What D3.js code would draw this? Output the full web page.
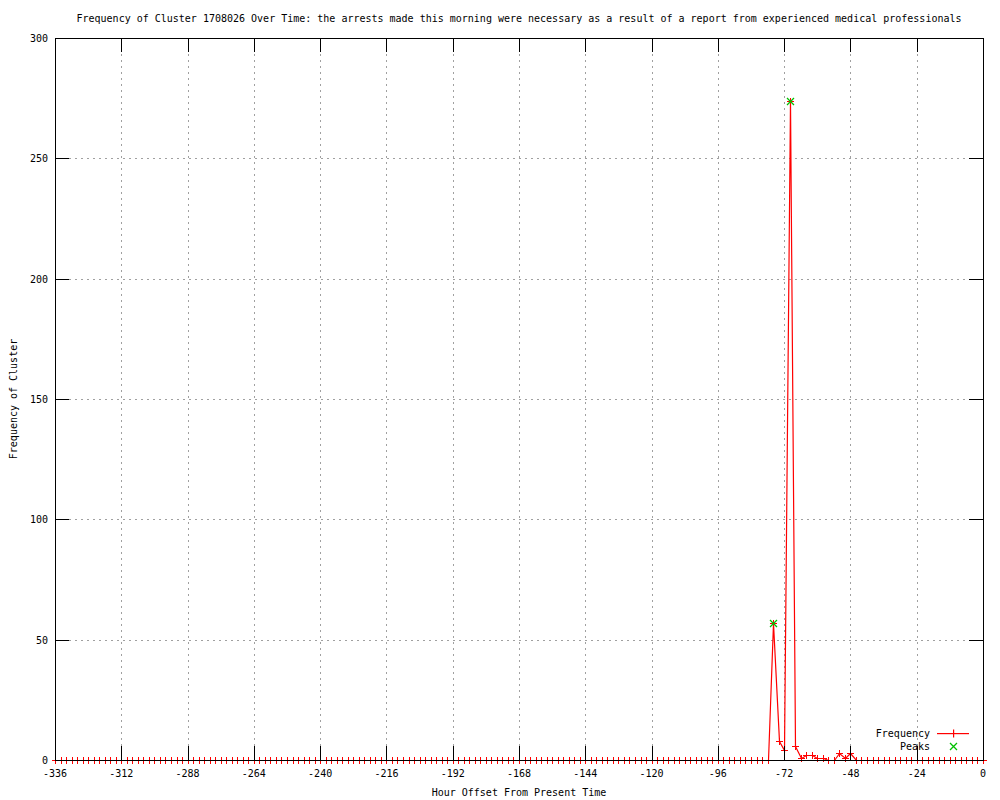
<!DOCTYPE html>
<html>
<head>
<meta charset="utf-8">
<script src="https://cdn.jsdelivr.net/npm/d3@7"></script>
<style>
	body { margin: 0; background: #fff; }
	text { font-family: 'DejaVu Sans Mono', 'Liberation Mono', monospace; font-size: 10px; fill: #000; }
</style>
</head>
<body>
<div id="chart"></div>
<script>
// data: one point every 2 hours from -336 to 0
const hourStep = 2;
const hours = d3.range(-336, 1, hourStep);
const frequency = [
	0, 0, 0, 0, 0, 0, 0, 0, 0, 0, 0, 0,
	0, 0, 0, 0, 0, 0, 0, 0, 0, 0, 0, 0,
	0, 0, 0, 0, 0, 0, 0, 0, 0, 0, 0, 0,
	0, 0, 0, 0, 0, 0, 0, 0, 0, 0, 0, 0,
	0, 0, 0, 0, 0, 0, 0, 0, 0, 0, 0, 0,
	0, 0, 0, 0, 0, 0, 0, 0, 0, 0, 0, 0,
	0, 0, 0, 0, 0, 0, 0, 0, 0, 0, 0, 0,
	0, 0, 0, 0, 0, 0, 0, 0, 0, 0, 0, 0,
	0, 0, 0, 0, 0, 0, 0, 0, 0, 0, 0, 0,
	0, 0, 0, 0, 0, 0, 0, 0, 0, 0, 0, 0,
	0, 0, 0, 0, 0, 0, 0, 0, 0, 0, 57, 8,
	4, 274, 6, 1, 2, 2, 1, 1, 0, 0, 3, 1,
	3, 0, 0, 0, 0, 0, 0, 0, 0, 0, 0, 0,
	0, 0, 0, 0, 0, 0, 0, 0, 0, 0, 0, 0,
	0
];
const peakHours = [-76, -70];
const peakValues = [57, 274];

const xTicks = [-336, -312, -288, -264, -240, -216, -192, -168, -144, -120, -96, -72, -48, -24, 0];
const yTicks = [0, 50, 100, 150, 200, 250, 300];

const titleText = 'Frequency of Cluster 1708026 Over Time: the arrests made this morning were necessary as a result of a report from experienced medical professionals';
const xLabel = 'Hour Offset From Present Time';
const yLabel = 'Frequency of Cluster';

class FreqVis {
	constructor(parentElement) {
		this.parentElement = parentElement;
		this.initVis();
	}

	initVis() {
		let vis = this;

		vis.margin = { top: 38, right: 17, bottom: 40, left: 55 };
		vis.width = 1000 - vis.margin.left - vis.margin.right;
		vis.height = 800 - vis.margin.top - vis.margin.bottom;

		vis.root = d3.select('#' + vis.parentElement).append('svg').attr('width', 1000).attr('height', 800);
		vis.svg = vis.root.append('g').attr('transform', `translate(${vis.margin.left}, ${vis.margin.top})`);

		vis.x = d3.scaleLinear().domain([-336, 0]).range([0, vis.width]);
		vis.y = d3.scaleLinear().domain([0, 300]).range([vis.height, 0]);

		// titles
		vis.root.append('text').attr('x', vis.margin.left + vis.width / 2).attr('y', 22)
			.attr('text-anchor', 'middle').text(titleText);
		vis.root.append('text').attr('x', vis.margin.left + vis.width / 2).attr('y', 796)
			.attr('text-anchor', 'middle').text(xLabel);
		vis.root.append('text').attr('transform', `translate(17, ${vis.margin.top + vis.height / 2}) rotate(-90)`)
			.attr('text-anchor', 'middle').text(yLabel);

		vis.updateVis();
	}

	updateVis() {
		let vis = this;
		const tickLen = 14;
		const points = hours.map((h, i) => ({ h: h, v: frequency[i] }));
		const peaks = peakHours.map((h, i) => ({ h: h, v: peakValues[i] }));

		// grid
		const grid = vis.svg.append('g').attr('stroke', '#a0a0a0').attr('stroke-width', 1)
			.attr('stroke-dasharray', '2,4').attr('shape-rendering', 'crispEdges');
		grid.selectAll('.vgrid').data(xTicks.slice(1, -1)).enter().append('line')
			.attr('x1', d => Math.round(vis.x(d)) + 0.5).attr('x2', d => Math.round(vis.x(d)) + 0.5)
			.attr('y1', vis.height - tickLen).attr('y2', tickLen);
		grid.selectAll('.hgrid').data(yTicks.slice(1, -1)).enter().append('line')
			.attr('y1', d => Math.round(vis.y(d)) + 0.5).attr('y2', d => Math.round(vis.y(d)) + 0.5)
			.attr('x1', tickLen).attr('x2', vis.width - tickLen);

		// frequency line + markers
		const line = d3.line().x(d => Math.round(vis.x(d.h)) + 0.5).y(d => Math.round(vis.y(d.v)) + 0.5);
		vis.svg.append('path').datum(points).attr('d', line)
			.attr('fill', 'none').attr('stroke', '#ff0000').attr('stroke-width', 1.2);

		const plus = 3.5;
		vis.svg.selectAll('.plus').data(points).enter().append('path')
			.attr('d', d => {
				const px = Math.round(vis.x(d.h)) + 0.5, py = Math.round(vis.y(d.v)) + 0.5;
				return `M${px - plus},${py}H${px + plus}M${px},${py - plus}V${py + plus}`;
			})
			.attr('stroke', '#ff0000').attr('fill', 'none').attr('shape-rendering', 'crispEdges');

		// peaks: green crosses drawn over the frequency markers
		vis.svg.selectAll('.peak').data(peaks).enter().append('path')
			.attr('d', d => {
				const px = Math.round(vis.x(d.h)) + 0.5, py = Math.round(vis.y(d.v)) + 0.5;
				return `M${px - 3.5},${py - 3.5}L${px + 3.5},${py + 3.5}M${px - 3.5},${py + 3.5}L${px + 3.5},${py - 3.5}`;
			})
			.style('stroke', '#00c000').style('stroke-width', 1.3).style('fill', 'none');

		// border
		vis.svg.append('rect').attr('x', 0.5).attr('y', 0.5).attr('width', vis.width).attr('height', vis.height)
			.attr('fill', 'none').attr('stroke', '#000').attr('shape-rendering', 'crispEdges');

		// ticks
		const ticks = vis.svg.append('g').attr('stroke', '#000').attr('shape-rendering', 'crispEdges');
		xTicks.forEach(t => {
			const px = Math.round(vis.x(t)) + 0.5;
			ticks.append('line').attr('x1', px).attr('x2', px).attr('y1', vis.height).attr('y2', vis.height - tickLen);
			ticks.append('line').attr('x1', px).attr('x2', px).attr('y1', 0).attr('y2', tickLen);
		});
		yTicks.forEach(t => {
			const py = Math.round(vis.y(t)) + 0.5;
			ticks.append('line').attr('y1', py).attr('y2', py).attr('x1', 0).attr('x2', tickLen);
			ticks.append('line').attr('y1', py).attr('y2', py).attr('x1', vis.width).attr('x2', vis.width - tickLen);
		});

		// tick labels
		vis.svg.selectAll('.xlab').data(xTicks).enter().append('text')
			.attr('x', d => vis.x(d)).attr('y', vis.height + 17).attr('text-anchor', 'middle')
			.text(d => String(d));
		vis.svg.selectAll('.ylab').data(yTicks).enter().append('text')
			.attr('x', -7).attr('y', d => vis.y(d) + 4).attr('text-anchor', 'end').text(d => d);

		vis.drawLegend();
	}

	drawLegend() {
		let vis = this;
		const legend = vis.root.append('g');
		legend.append('text').attr('x', 930).attr('y', 737).attr('text-anchor', 'end').text('Frequency');
		legend.append('rect').attr('x', 937).attr('y', 733).attr('width', 32).attr('height', 1.2)
			.style('fill', '#ff0000');
		legend.append('rect').attr('x', 953).attr('y', 729.5).attr('width', 1.2).attr('height', 8)
			.style('fill', '#ff0000');
		legend.append('text').attr('x', 930).attr('y', 750).attr('text-anchor', 'end').text('Peaks');
		legend.append('path').attr('d', 'M950,743L957,750M950,750L957,743')
			.style('stroke', '#00c000').style('stroke-width', 1.3).style('fill', 'none');
	}
}

new FreqVis('chart');
</script>
</body>
</html>
